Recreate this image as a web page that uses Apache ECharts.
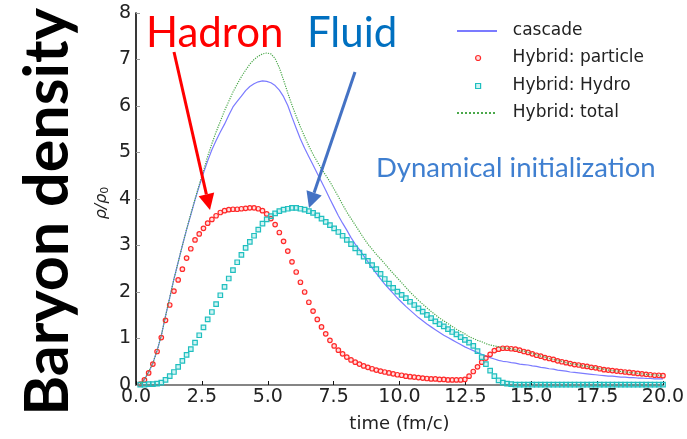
<!DOCTYPE html>
<html><head><meta charset="utf-8">
<script src="https://cdn.jsdelivr.net/npm/echarts@6/dist/echarts.min.js"></script>
<style>html,body{margin:0;padding:0;background:#fff}#c{width:687px;height:439px}</style>
</head><body><div id="c"></div>
<script>
const times = [0.16,0.32,0.48,0.64,0.80,0.96,1.12,1.28,1.44,1.60,1.76,1.92,2.08,2.24,2.40,2.56,2.72,2.88,3.04,3.20,
3.36,3.52,3.68,3.84,4.00,4.16,4.32,4.48,4.64,4.80,4.96,5.12,5.28,5.44,5.60,5.76,5.92,6.08,6.24,6.40,
6.56,6.72,6.88,7.04,7.20,7.36,7.52,7.68,7.84,8.00,8.16,8.32,8.48,8.64,8.80,8.96,9.12,9.28,9.44,9.60,
9.76,9.92,10.08,10.24,10.40,10.56,10.72,10.88,11.04,11.20,11.36,11.52,11.68,11.84,12.00,12.16,12.32,12.48,12.64,12.80,
12.96,13.12,13.28,13.44,13.60,13.76,13.92,14.08,14.24,14.40,14.56,14.72,14.88,15.04,15.20,15.36,15.52,15.68,15.84,16.00,
16.16,16.32,16.48,16.64,16.80,16.96,17.12,17.28,17.44,17.60,17.76,17.92,18.08,18.24,18.40,18.56,18.72,18.88,19.04,19.20,
19.36,19.52,19.68,19.84,20.00];

const cascade = [0.02,0.12,0.28,0.47,0.74,1.06,1.48,1.88,2.28,2.64,
3.00,3.34,3.66,3.98,4.28,4.56,4.82,5.06,5.26,5.44,
5.61,5.80,5.98,6.10,6.21,6.33,6.42,6.48,6.52,6.54,
6.53,6.50,6.44,6.34,6.20,6.01,5.76,5.52,5.29,5.09,
4.91,4.73,4.55,4.37,4.19,4.00,3.82,3.64,3.48,3.33,
3.17,3.03,2.91,2.78,2.65,2.52,2.40,2.28,2.17,2.07,
1.97,1.87,1.78,1.69,1.61,1.53,1.45,1.38,1.31,1.25,
1.19,1.13,1.07,1.02,0.97,0.92,0.87,0.82,0.78,0.74,
0.70,0.66,0.62,0.59,0.56,0.53,0.51,0.50,0.48,0.47,
0.45,0.44,0.43,0.41,0.40,0.38,0.37,0.35,0.34,0.32,
0.31,0.30,0.28,0.27,0.26,0.25,0.24,0.23,0.22,0.21,
0.20,0.19,0.19,0.18,0.17,0.17,0.16,0.16,0.15,0.15,
0.14,0.14,0.13,0.13,0.13];

const particle = [0.02,0.11,0.26,0.45,0.72,1.02,1.39,1.72,2.02,2.26,
2.49,2.73,2.93,3.12,3.25,3.37,3.48,3.56,3.64,3.71,
3.75,3.77,3.78,3.78,3.79,3.80,3.81,3.81,3.79,3.75,
3.68,3.58,3.45,3.28,3.09,2.88,2.65,2.43,2.21,2.00,
1.78,1.59,1.41,1.25,1.10,0.96,0.84,0.75,0.67,0.60,
0.54,0.49,0.45,0.41,0.38,0.35,0.32,0.30,0.28,0.26,
0.24,0.22,0.21,0.19,0.18,0.17,0.16,0.15,0.14,0.13,
0.13,0.12,0.12,0.11,0.11,0.11,0.11,0.12,0.19,0.29,
0.39,0.49,0.58,0.66,0.74,0.77,0.79,0.79,0.78,0.77,
0.75,0.72,0.70,0.67,0.64,0.62,0.59,0.57,0.55,0.52,
0.50,0.48,0.46,0.44,0.43,0.41,0.40,0.38,0.37,0.35,
0.33,0.32,0.31,0.30,0.29,0.28,0.27,0.26,0.25,0.24,
0.23,0.22,0.21,0.21,0.20];

const hydro = [0.01,0.01,0.02,0.02,0.03,0.05,0.11,0.19,0.28,0.39,
0.52,0.65,0.77,0.91,1.07,1.24,1.41,1.57,1.74,1.93,
2.11,2.29,2.47,2.64,2.80,2.95,3.08,3.21,3.34,3.47,
3.56,3.63,3.69,3.74,3.77,3.79,3.81,3.81,3.79,3.77,
3.74,3.70,3.65,3.58,3.51,3.44,3.37,3.29,3.21,3.12,
3.03,2.94,2.85,2.76,2.67,2.58,2.49,2.39,2.28,2.18,
2.09,2.01,1.94,1.87,1.79,1.72,1.65,1.58,1.51,1.44,
1.37,1.31,1.26,1.20,1.14,1.09,1.03,0.97,0.91,0.84,
0.73,0.60,0.45,0.31,0.19,0.10,0.05,0.03,0.02,0.01,
0.01,0.01,0.01,0.01,0.01,0.01,0.01,0.01,0.01,0.01,
0.01,0.01,0.01,0.01,0.01,0.01,0.01,0.01,0.01,0.01,
0.01,0.01,0.01,0.01,0.01,0.01,0.01,0.01,0.01,0.01,
0.01,0.01,0.01,0.01,0.01];

const total = [0.02,0.12,0.28,0.47,0.74,1.06,1.48,1.88,2.28,2.64,
3.00,3.35,3.68,4.00,4.31,4.60,4.92,5.19,5.44,5.67,
5.90,6.10,6.30,6.47,6.63,6.77,6.90,7.00,7.07,7.12,
7.14,7.12,7.02,6.82,6.56,6.28,6.02,5.78,5.55,5.34,
5.14,4.96,4.80,4.65,4.51,4.37,4.21,4.05,3.88,3.72,
3.58,3.44,3.30,3.16,3.03,2.92,2.81,2.71,2.61,2.50,
2.40,2.30,2.20,2.10,2.00,1.91,1.82,1.74,1.66,1.58,
1.51,1.44,1.38,1.32,1.26,1.20,1.15,1.10,1.04,1.00,
0.96,0.93,0.89,0.86,0.84,0.82,0.80,0.79,0.78,0.76,
0.74,0.73,0.70,0.68,0.65,0.62,0.60,0.57,0.55,0.53,
0.51,0.48,0.46,0.45,0.43,0.41,0.40,0.38,0.37,0.35,
0.34,0.32,0.31,0.30,0.29,0.28,0.27,0.26,0.25,0.24,
0.23,0.22,0.22,0.21,0.20];

const seriesNames = ['cascade','Hybrid: particle','Hybrid: Hydro','Hybrid: total'];
const xTickLabels = ['0.0','2.5','5.0','7.5','10.0','12.5','15.0','17.5','20.0'];
const yTickLabels = ['0','1','2','3','4','5','6','7','8'];

const chart = echarts.init(document.getElementById('c'), null, {renderer:'canvas'});
const pairs = a => times.map((t, i) => [t, a[i]]);
const tickFont = {fontFamily:'DejaVu Sans', fontSize:19, color:'#222'};
const legendText = {fontFamily:'DejaVu Sans', fontSize:17, color:'#222', lineHeight:20};
const lineLegend = {
  orient:'vertical', left:456, padding:0, itemWidth:40, itemHeight:14, selectedMode:false,
  textStyle:legendText, formatter: n => '  ' + n, itemStyle:{opacity:0}
};
const markLegend = {
  orient:'vertical', left:475, padding:0, itemWidth:5, itemHeight:5, selectedMode:false,
  textStyle:legendText, formatter: n => '     ' + n
};
const hl = '#ff0000', fl = '#0070c0', arrowBlue = '#4472c4';

chart.setOption({
  animation:false,
  backgroundColor:'#fff',
  grid:{left:136, right:24, top:13, bottom:54, outerBoundsMode:'none', containLabel:false},
  xAxis:[{
    type:'value', min:0, max:20, interval:2.5,
    axisLine:{show:true, onZero:false, lineStyle:{color:'#111', width:1.5}},
    axisTick:{show:true, inside:true, length:4, lineStyle:{color:'#111'}},
    axisLabel:{...tickFont, margin:3, formatter:v => xTickLabels[Math.round(v/2.5)]},
    splitLine:{show:false},
    name:'time (fm/c)', nameLocation:'middle', nameGap:30,
    nameTextStyle:{fontFamily:'DejaVu Sans', fontSize:18, color:'#222'}
  },{
    type:'value', position:'top', min:0, max:20,
    axisLine:{show:true, lineStyle:{color:'#999', width:1.5}},
    axisTick:{show:false}, axisLabel:{show:false}, splitLine:{show:false}
  }],
  yAxis:[{
    type:'value', min:0, max:8, interval:1,
    axisLine:{show:true, onZero:false, lineStyle:{color:'#999', width:1.5}},
    axisTick:{show:true, inside:true, length:4, lineStyle:{color:'#999'}},
    axisLabel:{...tickFont, margin:5, formatter:v => yTickLabels[Math.round(v)]},
    splitLine:{show:false}
  },{
    type:'value', position:'right', min:0, max:8,
    axisLine:{show:true, lineStyle:{color:'#111', width:1.5}},
    axisTick:{show:false}, axisLabel:{show:false}, splitLine:{show:false}
  }],
  legend:[
    {...lineLegend, top:21, data:[seriesNames[0]]},
    {...markLegend, top:48, data:[seriesNames[1]], itemStyle:{borderWidth:1.2}},
    {...markLegend, top:76, data:[seriesNames[2]], itemStyle:{borderWidth:1.2}},
    {...lineLegend, top:103, data:[seriesNames[3]]}
  ],
  series:[
    {name:seriesNames[0], type:'line', data:pairs(cascade), symbol:'none', showSymbol:false,
     lineStyle:{color:'#7b7bff', width:1.2}, itemStyle:{color:'#7b7bff'}, z:2},
    {name:seriesNames[1], type:'scatter', data:pairs(particle), symbol:'circle', symbolSize:4.5,
     itemStyle:{color:'rgba(255,80,80,0.18)', borderColor:'#ff2a2a', borderWidth:1.2, opacity:1}, z:3},
    {name:seriesNames[2], type:'scatter', data:pairs(hydro), symbol:'rect', symbolSize:4.5,
     itemStyle:{color:'rgba(0,190,190,0.18)', borderColor:'#1fbfbf', borderWidth:1.2, opacity:1}, z:4},
    {name:seriesNames[3], type:'line', data:pairs(total), symbol:'none', showSymbol:false,
     lineStyle:{color:'#4aa84a', width:1.2, type:'dotted'}, itemStyle:{color:'#4aa84a'}, z:5}
  ],
  graphic:[
    {type:'text', x:48, y:212, rotation:Math.PI/2, z:100,
     style:{text:'Baryon density', font:'bold 61px Lato', fill:'#000', align:'center', verticalAlign:'middle'}},
    {type:'text', x:102, y:203, rotation:Math.PI/2, z:100,
     style:{text:'{r|ρ/ρ}{s|0}', align:'center', verticalAlign:'middle',
       rich:{r:{fontFamily:'DejaVu Sans', fontStyle:'italic', fontSize:16, fill:'#222', lineHeight:18},
             s:{fontFamily:'DejaVu Sans', fontSize:11, fill:'#222', verticalAlign:'bottom', lineHeight:12}}}},
    {type:'text', x:146, y:33, z:100,
     style:{text:'Hadron', font:'42px Lato', fill:hl, align:'left', verticalAlign:'middle'}},
    {type:'text', x:307, y:33, z:100,
     style:{text:'Fluid', font:'42px Lato', fill:fl, align:'left', verticalAlign:'middle'}},
    {type:'text', x:376, y:168, z:100,
     style:{text:'Dynamical initialization', font:'27.5px Lato', fill:'#3f7fd0', align:'left', verticalAlign:'middle'}},
    {type:'line', z:100, shape:{x1:174, y1:52, x2:206.4, y2:194.4}, style:{stroke:hl, lineWidth:3}},
    {type:'polygon', z:100, shape:{points:[[210,210],[198.6,196.2],[214.2,192.6]]}, style:{fill:hl}},
    {type:'line', z:100, shape:{x1:355, y1:72, x2:314.1, y2:192.8}, style:{stroke:arrowBlue, lineWidth:3}},
    {type:'polygon', z:100, shape:{points:[[309,208],[306.5,190.2],[321.7,195.4]]}, style:{fill:arrowBlue}}
  ]
});
</script>
</body></html>
